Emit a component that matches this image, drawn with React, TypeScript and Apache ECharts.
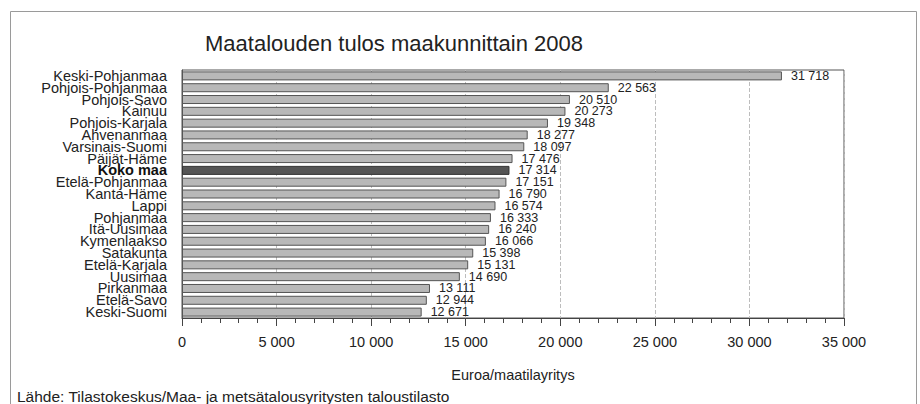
import React, { useEffect, useRef } from "react";
import * as echarts from "echarts";

const categories = [
  "Keski-Pohjanmaa",
  "Pohjois-Pohjanmaa",
  "Pohjois-Savo",
  "Kainuu",
  "Pohjois-Karjala",
  "Ahvenanmaa",
  "Varsinais-Suomi",
  "Päijät-Häme",
  "Koko maa",
  "Etelä-Pohjanmaa",
  "Kanta-Häme",
  "Lappi",
  "Pohjanmaa",
  "Itä-Uusimaa",
  "Kymenlaakso",
  "Satakunta",
  "Etelä-Karjala",
  "Uusimaa",
  "Pirkanmaa",
  "Etelä-Savo",
  "Keski-Suomi",
];
const values = [
  31718, 22563, 20510, 20273, 19348, 18277, 18097, 17476, 17314, 17151, 16790,
  16574, 16333, 16240, 16066, 15398, 15131, 14690, 13111, 12944, 12671,
];
const highlight = "Koko maa";
const titleText = "Maatalouden tulos maakunnittain 2008";
const axisName = "Euroa/maatilayritys";
const sourceText = "Lähde: Tilastokeskus/Maa- ja metsätalousyritysten taloustilasto";

const fmt = (v: number) => String(v).replace(/\B(?=(\d{3})+(?!\d))/g, " ");
const FONT = "'Liberation Sans', Arial, sans-serif";

export default function App() {
  const ref = useRef<HTMLDivElement>(null);
  useEffect(() => {
    const chart = echarts.init(ref.current!, null, { renderer: "svg" });
    chart.setOption({
      animation: false,
      backgroundColor: "#fff",
      textStyle: { fontFamily: FONT },
      title: {
        text: titleText,
        left: 205,
        top: 32,
        padding: 0,
        textStyle: { fontSize: 22, fontWeight: "normal", color: "#222", fontFamily: FONT },
      },
      graphic: [
        {
          type: "rect",
          shape: { x: 10.5, y: 11.5, width: 906, height: 420 },
          style: { fill: "none", stroke: "#9a9a9a", lineWidth: 1 },
          silent: true,
        },
        {
          type: "text",
          x: 17,
          y: 396,
          style: {
            text: sourceText,
            fontSize: 15.5,
            fontFamily: FONT,
            fill: "#222",
            verticalAlign: "middle",
          },
        },
      ],
      grid: {
        left: 182,
        right: 76,
        top: 70,
        bottom: 86,
        show: true,
        borderColor: "#555",
        borderWidth: 1,
      },
      xAxis: {
        type: "value",
        min: 0,
        max: 35000,
        interval: 5000,
        name: axisName,
        nameLocation: "middle",
        nameGap: 49,
        nameTextStyle: { fontSize: 14.5, color: "#222", fontFamily: FONT },
        axisLine: { show: true, lineStyle: { color: "#444" } },
        axisTick: { show: true, length: 8, lineStyle: { color: "#444" } },
        minorTick: { show: true, splitNumber: 5, length: 5, lineStyle: { color: "#444" } },
        axisLabel: {
          formatter: (v: number) => fmt(v),
          fontSize: 14.5,
          color: "#222",
          margin: 16,
          fontFamily: FONT,
        },
        splitLine: { show: true, lineStyle: { color: "#bdbdbd", type: "dashed" } },
      },
      yAxis: {
        type: "category",
        data: categories,
        inverse: true,
        axisLine: { show: true, lineStyle: { color: "#555" } },
        axisTick: { show: false },
        axisLabel: {
          interval: 0,
          fontSize: 14.5,
          lineHeight: 12,
          color: "#222",
          margin: 15,
          fontFamily: FONT,
          formatter: (v: string) => (v === highlight ? `{b|${v}}` : v),
          rich: {
            b: { fontWeight: "bold", fontSize: 14.5, lineHeight: 12, color: "#111", fontFamily: FONT },
          },
        },
      },
      series: [
        {
          type: "bar",
          barWidth: 9,
          data: values.map((v, i) => ({
            value: v,
            itemStyle:
              categories[i] === highlight
                ? { color: "#555555", borderColor: "#333", borderWidth: 1 }
                : { color: "#b8b8b8", borderColor: "#555", borderWidth: 1 },
          })),
          label: {
            show: true,
            position: "right",
            distance: 9,
            fontSize: 12.5,
            lineHeight: 12,
            color: "#222",
            fontFamily: FONT,
            formatter: (p: any) => fmt(p.value),
          },
        },
      ],
    });
    return () => chart.dispose();
  }, []);
  return (
    <div
      ref={ref}
      style={{ position: "fixed", left: 0, top: 0, width: 920, height: 404 }}
    />
  );
}
